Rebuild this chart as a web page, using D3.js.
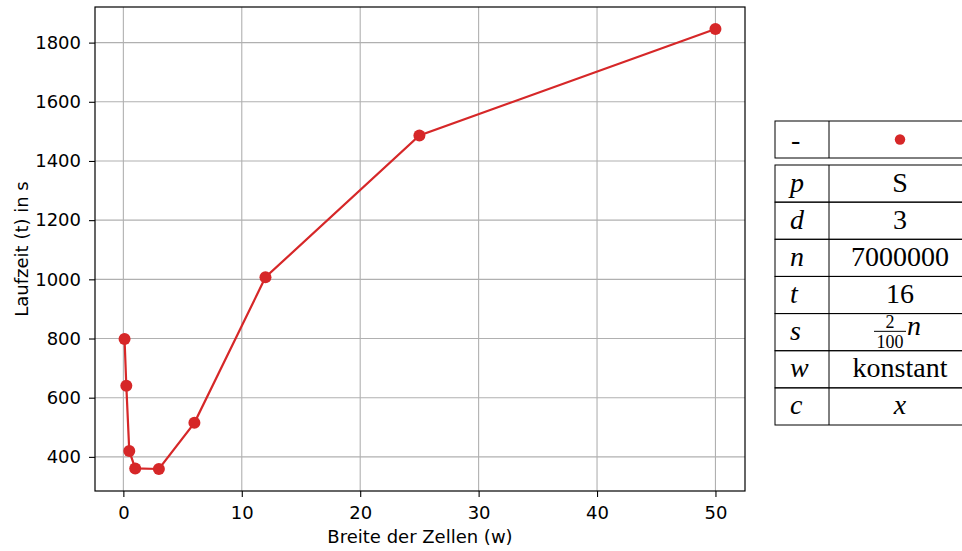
<!DOCTYPE html>
<html>
<head>
<meta charset="utf-8">
<script src="https://cdn.jsdelivr.net/npm/d3@7"></script>
<style>
  html, body { margin: 0; padding: 0; background: #fff; }
  svg { display: block; }
</style>
</head>
<body>
<svg id="chart" width="962" height="551"></svg>
<script>
// Runtime measurements: cell width w against run time t
const widths = [0.1, 0.25, 0.5, 1, 3, 6, 12, 25, 50];
const runtimes = [798, 640, 420, 361, 359, 515, 1007, 1486, 1846];

const xTicks = [0, 10, 20, 30, 40, 50];
const yTicks = [400, 600, 800, 1000, 1200, 1400, 1600, 1800];

const xLabel = "Breite der Zellen (w)";
const yLabel = "Laufzeit (t) in s";

// Parameter table beside the plot
const paramKeys = ["p", "d", "n", "t", "s", "w", "c"];
const paramVals = ["S", "3", "7000000", "16", "frac", "konstant", "x"];

const red = "#d62728";
const sans = "DejaVu Sans";
const labelSize = 18;
const svg = d3.select("#chart");

const plot = { left: 95, right: 745, top: 7, bottom: 491 };

// 5% padding around the data extent
function padded(values) {
  const [lo, hi] = d3.extent(values);
  const m = (hi - lo) * 0.05;
  return [lo - m, hi + m];
}

const x = d3.scaleLinear().domain(padded(widths)).range([plot.left, plot.right]);
const y = d3.scaleLinear().domain(padded(runtimes)).range([plot.bottom, plot.top]);

// grid
const grid = svg.append("g").attr("stroke", "#b0b0b0").attr("stroke-width", 1.1);
grid.selectAll(".gx").data(xTicks).join("line")
  .attr("x1", d => x(d)).attr("x2", d => x(d))
  .attr("y1", plot.top).attr("y2", plot.bottom);
grid.selectAll(".gy").data(yTicks).join("line")
  .attr("x1", plot.left).attr("x2", plot.right)
  .attr("y1", d => y(d)).attr("y2", d => y(d));

// axes
const xAxis = d3.axisBottom(x).tickValues(xTicks).tickSize(6).tickPadding(9).tickFormat(d3.format("d"));
const yAxis = d3.axisLeft(y).tickValues(yTicks).tickSize(6).tickPadding(8).tickFormat(d3.format("d"));

const gx = svg.append("g").attr("transform", `translate(0,${plot.bottom})`).call(xAxis);
const gy = svg.append("g").attr("transform", `translate(${plot.left},0)`).call(yAxis);
[gx, gy].forEach(g => {
  g.select(".domain").remove();
  g.selectAll(".tick line").attr("stroke", "#000").attr("stroke-width", 1.1);
  g.selectAll(".tick text").attr("font-family", sans).attr("font-size", labelSize).attr("fill", "#000");
});

// frame
svg.append("rect")
  .attr("x", plot.left).attr("y", plot.top)
  .attr("width", plot.right - plot.left).attr("height", plot.bottom - plot.top)
  .attr("fill", "none").attr("stroke", "#000").attr("stroke-width", 1.2);

// series line and markers
const pts = widths.map((w, i) => [w, runtimes[i]]);
svg.append("path")
  .datum(pts)
  .attr("fill", "none").attr("stroke", red).attr("stroke-width", 2.2)
  .attr("d", d3.line().x(d => x(d[0])).y(d => y(d[1])));
svg.append("g").selectAll("circle").data(pts).join("circle")
  .attr("cx", d => x(d[0])).attr("cy", d => y(d[1])).attr("r", 6).attr("fill", red);

// axis titles
svg.append("text")
  .attr("x", (plot.left + plot.right) / 2).attr("y", 543)
  .attr("text-anchor", "middle")
  .attr("font-family", sans).attr("font-size", labelSize)
  .text(xLabel);
svg.append("text")
  .attr("transform", `translate(28,${(plot.top + plot.bottom) / 2}) rotate(-90)`)
  .attr("text-anchor", "middle")
  .attr("font-family", sans).attr("font-size", labelSize)
  .text(yLabel);

// tables
const tbl = { left: 775, mid: 829, right: 971 };
const serif = "Liberation Serif";
const fs = 28;

function cellBox(y0, y1) {
  svg.append("rect")
    .attr("x", tbl.left).attr("y", y0)
    .attr("width", tbl.right - tbl.left).attr("height", y1 - y0)
    .attr("fill", "none").attr("stroke", "#000").attr("stroke-width", 1);
  svg.append("line")
    .attr("x1", tbl.mid).attr("x2", tbl.mid).attr("y1", y0).attr("y2", y1)
    .attr("stroke", "#000").attr("stroke-width", 1);
}

// legend row
const legTop = 121, legBot = 158;
cellBox(legTop, legBot);
svg.append("text")
  .attr("x", 791).attr("y", (legTop + legBot) / 2 + 9)
  .attr("font-family", serif).attr("font-size", fs)
  .text("-");
svg.append("circle")
  .attr("cx", 900).attr("cy", (legTop + legBot) / 2)
  .attr("r", 5.2).attr("fill", red);

// parameter rows
const rowTop = 165, rowH = (425 - 165) / paramKeys.length;
paramKeys.forEach((k, i) => {
  const y0 = rowTop + i * rowH, y1 = y0 + rowH;
  const cy = y0 + rowH / 2;
  cellBox(y0, y1);
  const base = cy + 8;
  svg.append("text")
    .attr("x", 790).attr("y", base)
    .attr("font-family", serif).attr("font-style", "italic").attr("font-size", fs)
    .text(k);
  const v = paramVals[i];
  if (v === "frac") {
    // 2/100 · n
    const fx = 890;
    svg.append("text")
      .attr("x", fx).attr("y", cy - 4)
      .attr("text-anchor", "middle")
      .attr("font-family", serif).attr("font-size", 18)
      .text("2");
    svg.append("line")
      .attr("x1", fx - 16).attr("x2", fx + 16).attr("y1", cy - 0.8).attr("y2", cy - 0.8)
      .attr("stroke", "#000").attr("stroke-width", 1);
    svg.append("text")
      .attr("x", fx).attr("y", cy + 16)
      .attr("text-anchor", "middle")
      .attr("font-family", serif).attr("font-size", 18)
      .text("100");
    svg.append("text")
      .attr("x", fx + 17).attr("y", cy + 3)
      .attr("font-family", serif).attr("font-style", "italic").attr("font-size", fs)
      .text("n");
  } else {
    svg.append("text")
      .attr("x", 900).attr("y", base)
      .attr("text-anchor", "middle")
      .attr("font-family", serif).attr("font-size", fs)
      .attr("font-style", v === "x" ? "italic" : "normal")
      .text(v);
  }
});
</script>
</body>
</html>
